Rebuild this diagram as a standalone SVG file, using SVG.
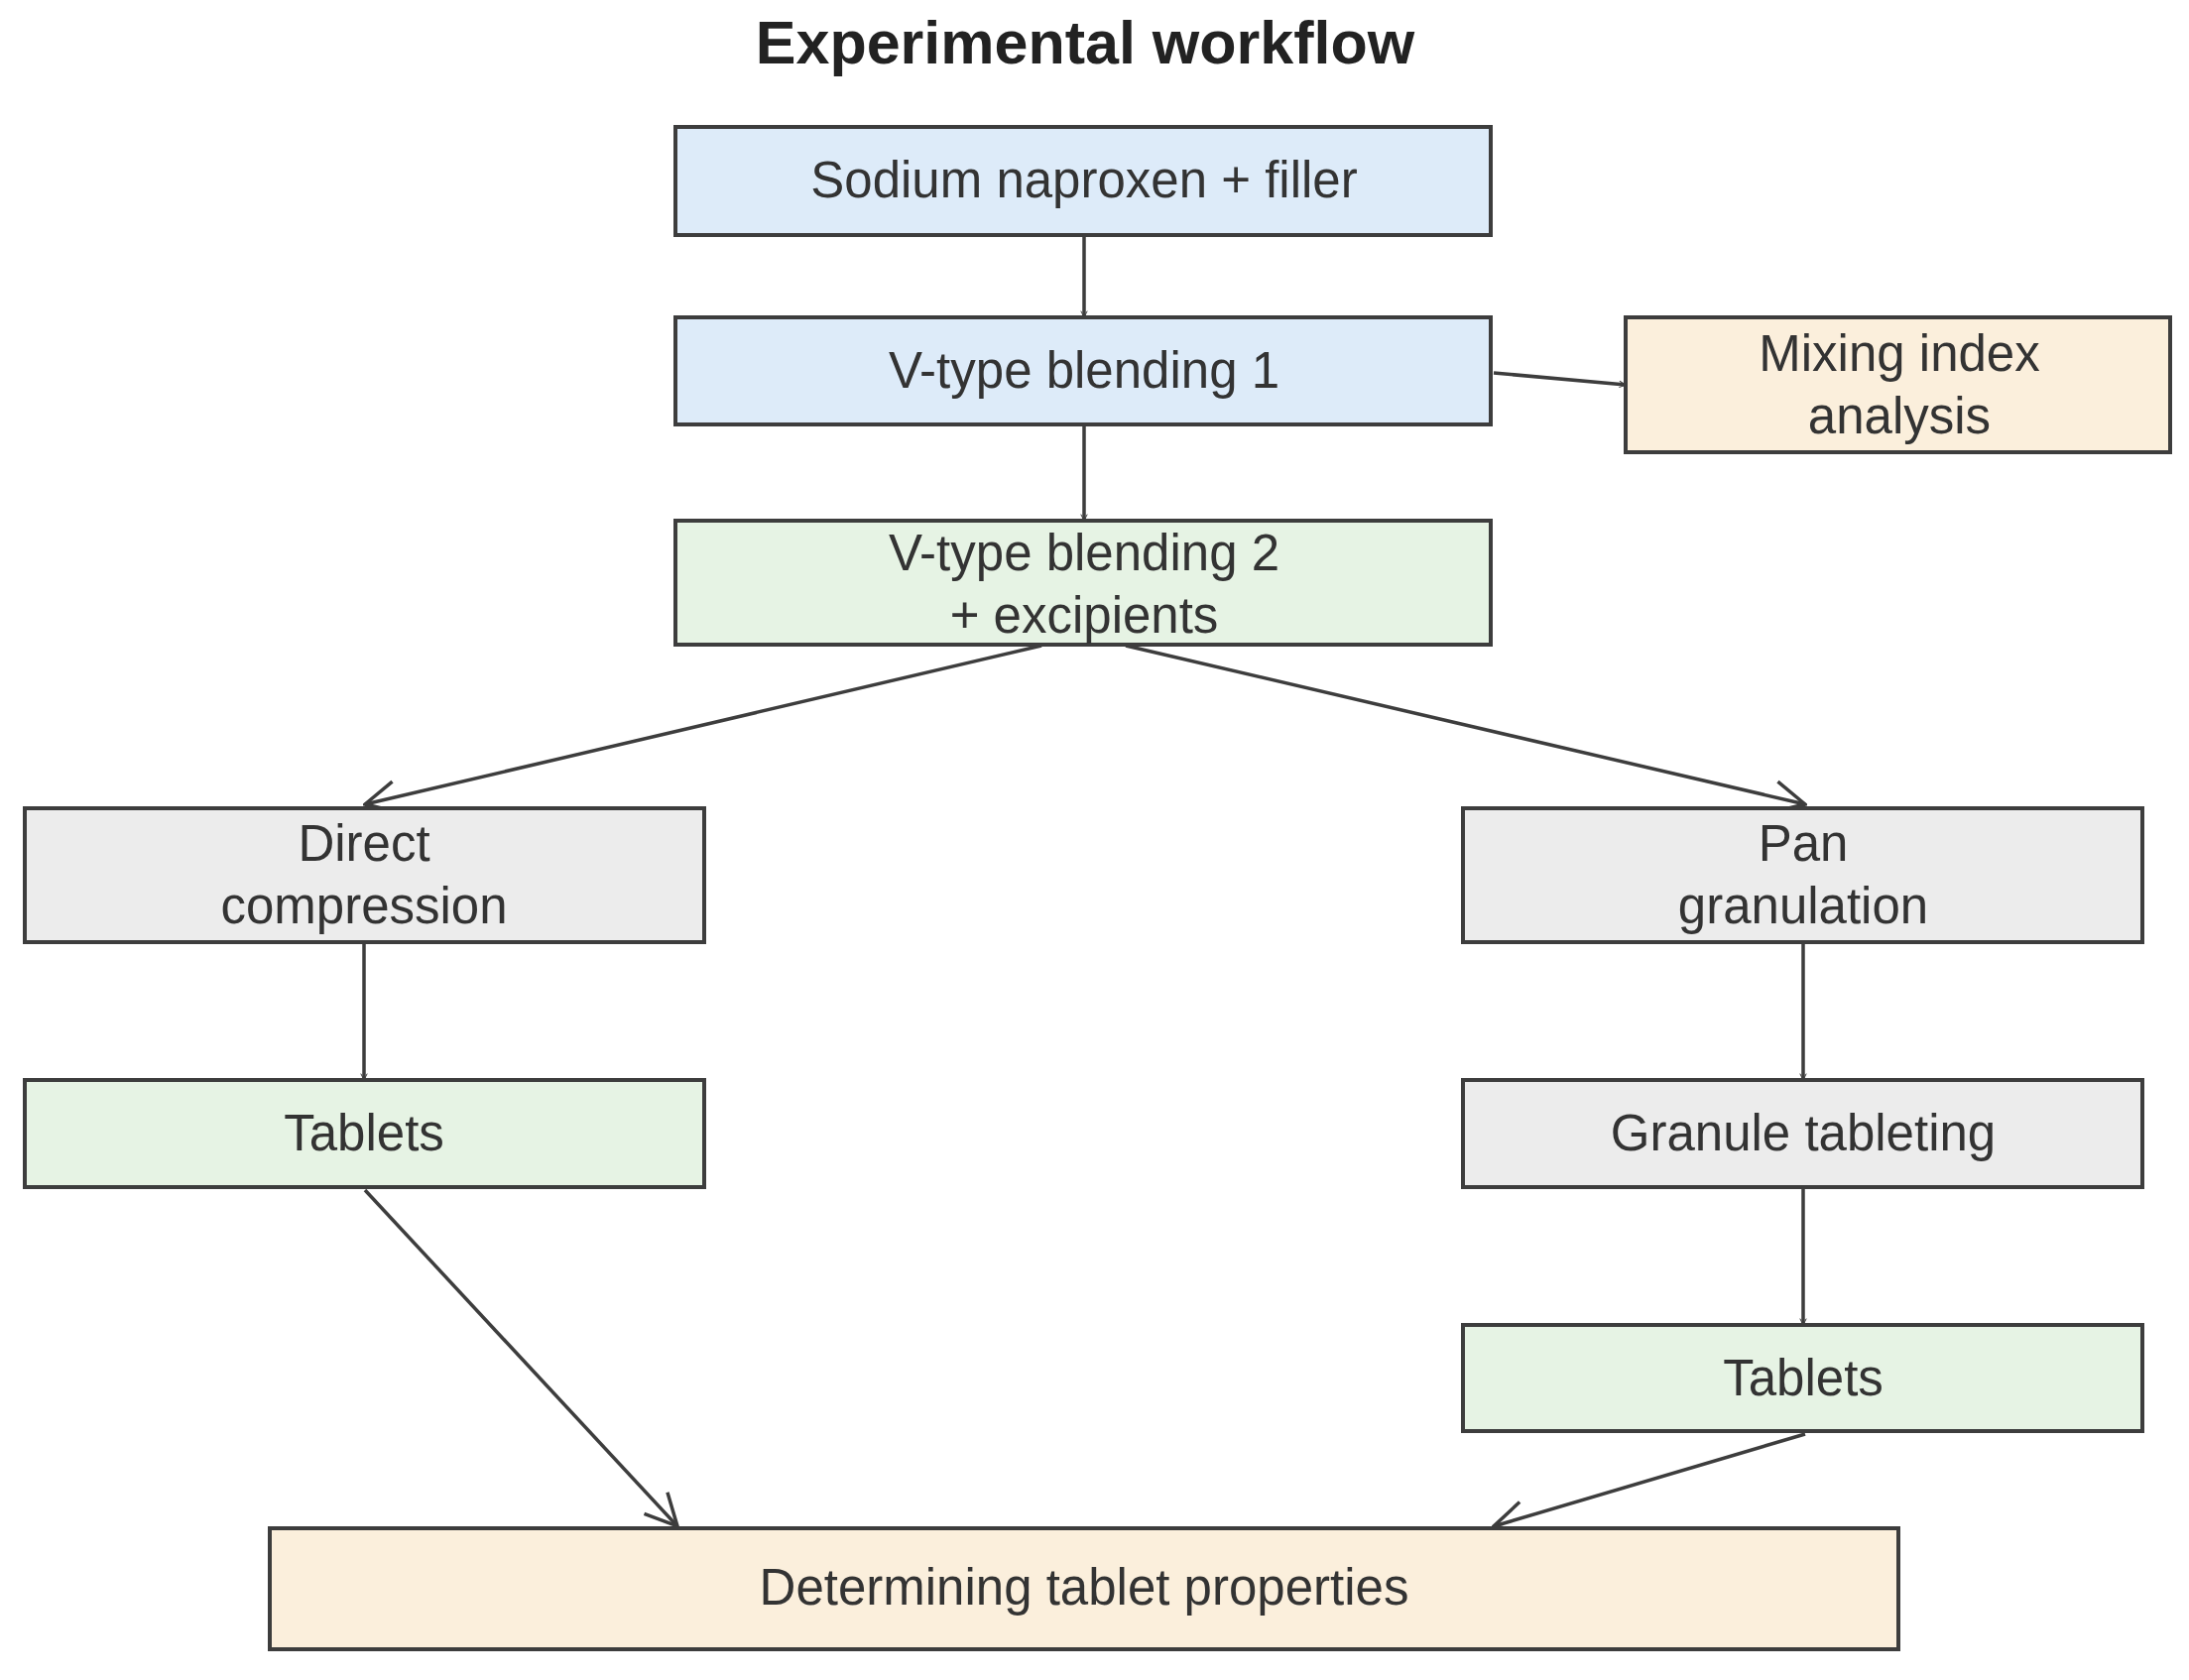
<svg xmlns="http://www.w3.org/2000/svg" width="2207" height="1694" viewBox="0 0 2207 1694">
<style>
.n{stroke:#3d3d3d;stroke-width:4}
.b{fill:#ddebf9}.g{fill:#e6f3e4}.y{fill:#fbefdc}.k{fill:#ececec}
text{font-family:"Liberation Sans",Arial,sans-serif;font-size:51px;fill:#333;text-anchor:middle}
.c line{stroke:#3d3d3d;stroke-width:3.5;fill:none}
</style>
<defs><marker id="a" viewBox="0 0 20 20" refX="18" refY="10" markerWidth="8" markerHeight="8" markerUnits="userSpaceOnUse" orient="auto"><path d="M2,2 L18,10 L2,18" fill="none" stroke="#3d3d3d" stroke-width="2.5"/></marker>
<marker id="o" viewBox="0 0 40 40" refX="38" refY="20" markerWidth="40" markerHeight="40" markerUnits="userSpaceOnUse" orient="auto"><path d="M6,4 L38,20 L6,36" fill="none" stroke="#3d3d3d" stroke-width="3.5"/></marker></defs>
<text x="1094" y="64" style="font-weight:bold;font-size:61px;fill:#222">Experimental workflow</text>
<g class="c">
<line x1="1093" y1="237" x2="1093" y2="320" marker-end="url(#a)"/>
<line x1="1506" y1="376" x2="1639" y2="388" marker-end="url(#a)"/>
<line x1="1093" y1="428" x2="1093" y2="525" marker-end="url(#a)"/>
<line x1="1050" y1="651" x2="368" y2="811" marker-end="url(#o)"/>
<line x1="1135" y1="651" x2="1820" y2="811" marker-end="url(#o)"/>
<line x1="367" y1="950" x2="367" y2="1089" marker-end="url(#a)"/>
<line x1="1818" y1="950" x2="1818" y2="1089" marker-end="url(#a)"/>
<line x1="1818" y1="1197" x2="1818" y2="1336" marker-end="url(#a)"/>
<line x1="368" y1="1200" x2="683" y2="1539" marker-end="url(#o)"/>
<line x1="1820" y1="1446" x2="1506" y2="1539" marker-end="url(#o)"/>
</g>
<g id="n1"><rect class="n b" x="681" y="128" width="822" height="109"/><text x="1093" y="199">Sodium naproxen + filler</text></g>
<g id="n2"><rect class="n b" x="681" y="320" width="822" height="108"/><text x="1093" y="391">V-type blending 1</text></g>
<g id="n3"><rect class="n y" x="1639" y="320" width="549" height="136"/><text x="1915" y="374">Mixing index</text><text x="1915" y="437">analysis</text></g>
<g id="n4"><rect class="n g" x="681" y="525" width="822" height="125"/><text x="1093" y="575">V-type blending 2</text><text x="1093" y="638">+ excipients</text></g>
<g id="n5"><rect class="n k" x="25" y="815" width="685" height="135"/><text x="367" y="868">Direct</text><text x="367" y="931">compression</text></g>
<g id="n6"><rect class="n k" x="1475" y="815" width="685" height="135"/><text x="1818" y="868">Pan</text><text x="1818" y="931">granulation</text></g>
<g id="n7"><rect class="n g" x="25" y="1089" width="685" height="108"/><text x="367" y="1160">Tablets</text></g>
<g id="n8"><rect class="n k" x="1475" y="1089" width="685" height="108"/><text x="1818" y="1160">Granule tableting</text></g>
<g id="n9"><rect class="n g" x="1475" y="1336" width="685" height="107"/><text x="1818" y="1407">Tablets</text></g>
<g id="n10"><rect class="n y" x="272" y="1541" width="1642" height="122"/><text x="1093" y="1618">Determining tablet properties</text></g>
</svg>
